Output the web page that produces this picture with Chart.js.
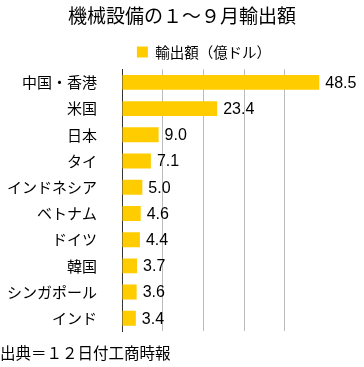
<!DOCTYPE html>
<html>
<head>
<meta charset="utf-8">
<script src="https://cdn.jsdelivr.net/npm/chart.js@4/dist/chart.umd.min.js"></script>
<style>
    body { margin: 0; background: #fff; }
    canvas { display: block; }
</style>
</head>
<body>
<canvas id="chartXuatKhau" width="364" height="367"></canvas>
<script>
// du lieu
var labels = ['中国・香港', '米国', '日本', 'タイ', 'インドネシア', 'ベトナム', 'ドイツ', '韓国', 'シンガポール', 'インド'];
var giaTri = [48.5, 23.4, 9.0, 7.1, 5.0, 4.6, 4.4, 3.7, 3.6, 3.4];
var tenSeries = '輸出額（億ドル）';
var tieuDe = '機械設備の１～９月輸出額';
var nguon = '出典＝１２日付工商時報';

var fontJP = "'Noto Sans CJK JP', 'Noto Sans', sans-serif";

// ve so o cuoi moi cot
var nhanGiaTri = {
    id: 'nhanGiaTri',
    afterDatasetsDraw: function (chart) {
        var ctx = chart.ctx;
        var meta = chart.getDatasetMeta(0);
        ctx.save();
        ctx.font = "16px 'Liberation Sans', Arial, sans-serif";
        ctx.fillStyle = '#000';
        ctx.textAlign = 'left';
        ctx.textBaseline = 'middle';
        meta.data.forEach(function (bar, i) {
            ctx.fillText(giaTri[i].toFixed(1), bar.x + 6, bar.y + 1);
        });
        ctx.restore();
    }
};

// day legend sang phai cho giong hinh goc
var dichLegend = {
    id: 'dichLegend',
    afterLayout: function (chart) {
        if (chart.legend) {
            chart.legend.left += 22;
            chart.legend.right += 22;
        }
    }
};

Chart.defaults.color = '#000';
Chart.defaults.font.family = fontJP;

var chartXuatKhau = new Chart(document.getElementById('chartXuatKhau'), {
    type: 'bar',
    data: {
        labels: labels,
        datasets: [{
            label: tenSeries,
            data: giaTri,
            backgroundColor: '#FFCC00',
            borderWidth: 0,
            barPercentage: 0.57,
            categoryPercentage: 1
        }]
    },
    options: {
        indexAxis: 'y',
        responsive: false,
        animation: false,
        layout: { padding: 0 },
        plugins: {
            title: {
                display: true,
                text: tieuDe,
                font: { size: 19, weight: 'normal', family: fontJP },
                padding: { top: 4, bottom: 8 }
            },
            legend: {
                display: true,
                labels: {
                    boxWidth: 11,
                    boxHeight: 11,
                    font: { size: 14.5, family: fontJP },
                    padding: 10
                }
            },
            subtitle: {
                display: true,
                position: 'bottom',
                align: 'start',
                text: nguon,
                font: { size: 15.5, family: fontJP },
                padding: { top: 12, bottom: 5 }
            },
            tooltip: { enabled: false }
        },
        scales: {
            x: {
                min: 0,
                max: 59.5,
                ticks: { display: false, stepSize: 10 },
                border: { display: false },
                grid: {
                    drawTicks: false,
                    color: function (c) {
                        var v = c.tick ? c.tick.value : 0;
                        if (v === 0 || v % 10 !== 0) return 'rgba(0,0,0,0)';
                        return '#bbbbbb';
                    }
                },
                afterFit: function (s) { s.height = 0; }
            },
            y: {
                grid: { display: false, drawTicks: false },
                border: { display: true, color: '#333', width: 1 },
                ticks: {
                    padding: 25,
                    font: { size: 15, family: fontJP },
                    color: '#000'
                },
                afterFit: function (s) { s.width = 122; }
            }
        }
    },
    plugins: [nhanGiaTri, dichLegend]
});
</script>
</body>
</html>
